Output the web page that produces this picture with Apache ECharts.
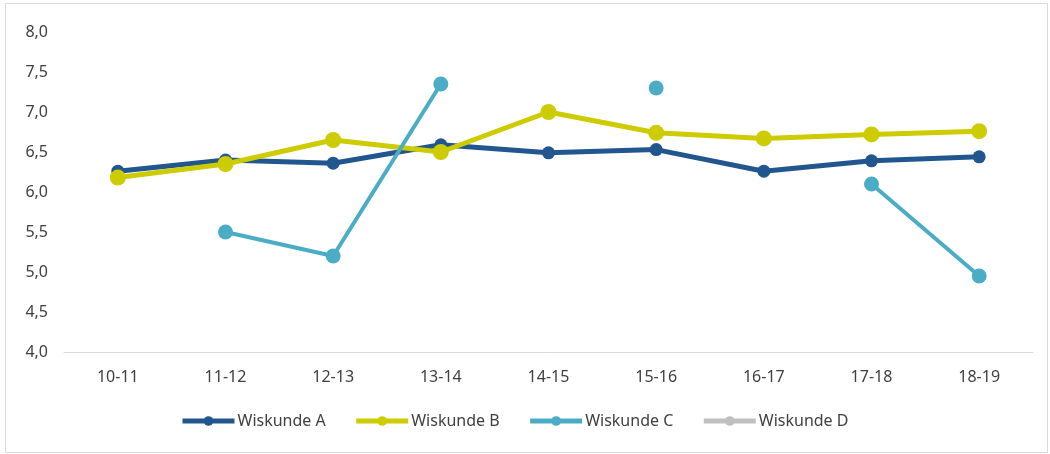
<!DOCTYPE html>
<html>
<head>
<meta charset="utf-8">
<script src="https://cdn.jsdelivr.net/npm/echarts@6/dist/echarts.min.js"></script>
<style>html,body{margin:0;padding:0;background:#fff}#c{width:1050px;height:454px}</style>
</head>
<body>
<div id="c"></div>
<script>
const categories = ['10-11','11-12','12-13','13-14','14-15','15-16','16-17','17-18','18-19'];
const wiskundeA = [6.26, 6.40, 6.36, 6.59, 6.49, 6.53, 6.26, 6.39, 6.44];
const wiskundeB = [6.18, 6.35, 6.65, 6.50, 7.00, 6.74, 6.67, 6.72, 6.76];
const wiskundeC = [null, 5.50, 5.20, 7.35, null, 7.30, null, 6.10, 4.95];
const wiskundeD = [null, null, null, null, null, null, null, null, null];
const seriesNames = ['Wiskunde A','Wiskunde B','Wiskunde C','Wiskunde D'];
const yTicks = [4.0, 4.5, 5.0, 5.5, 6.0, 6.5, 7.0, 7.5, 8.0];

const font = 'Noto Sans';
const chart = echarts.init(document.getElementById('c'));
const mk = (name, data, color, width, size) => ({
  name, type: 'line', data, connectNulls: false,
  symbol: 'circle', symbolSize: size, showSymbol: true,
  lineStyle: { color, width }, itemStyle: { color },
  emphasis: { disabled: true }, animation: false
});
chart.setOption({
  animation: false,
  graphic: [{ type: 'rect', shape: { x: 5.5, y: 3.5, width: 1042, height: 449 },
    style: { fill: 'none', stroke: '#d9d9d9', lineWidth: 1 }, silent: true }],
  grid: { left: 64, right: 17, top: 32, bottom: 102, containLabel: false },
  legend: {
    top: 413, left: 180, padding: 0, itemWidth: 52, itemHeight: 12, itemGap: 28,
    lineStyle: { width: 5 },
    textStyle: { fontFamily: font, fontSize: 16, color: '#404040', padding: [0,0,0,-2] },
    data: seriesNames
  },
  xAxis: {
    type: 'category', data: categories, boundaryGap: true,
    axisLine: { lineStyle: { color: '#d9d9d9', width: 1 } },
    axisTick: { show: false },
    axisLabel: { fontFamily: font, fontSize: 16, color: '#404040', margin: 17 }
  },
  yAxis: {
    type: 'value', min: yTicks[0], max: yTicks[yTicks.length-1], interval: 0.5,
    axisLine: { show: false }, axisTick: { show: false }, splitLine: { show: false },
    axisLabel: { fontFamily: font, fontSize: 16, color: '#404040', margin: 16,
      formatter: v => v.toFixed(1).replace('.', ',') }
  },
  series: [
    mk(seriesNames[0], wiskundeA, '#22568f', 5, 13),
    mk(seriesNames[1], wiskundeB, '#cccc00', 5, 16),
    mk(seriesNames[2], wiskundeC, '#4bacc6', 4, 15),
    mk(seriesNames[3], wiskundeD, '#bfbfbf', 4, 14)
  ]
});
</script>
</body>
</html>
